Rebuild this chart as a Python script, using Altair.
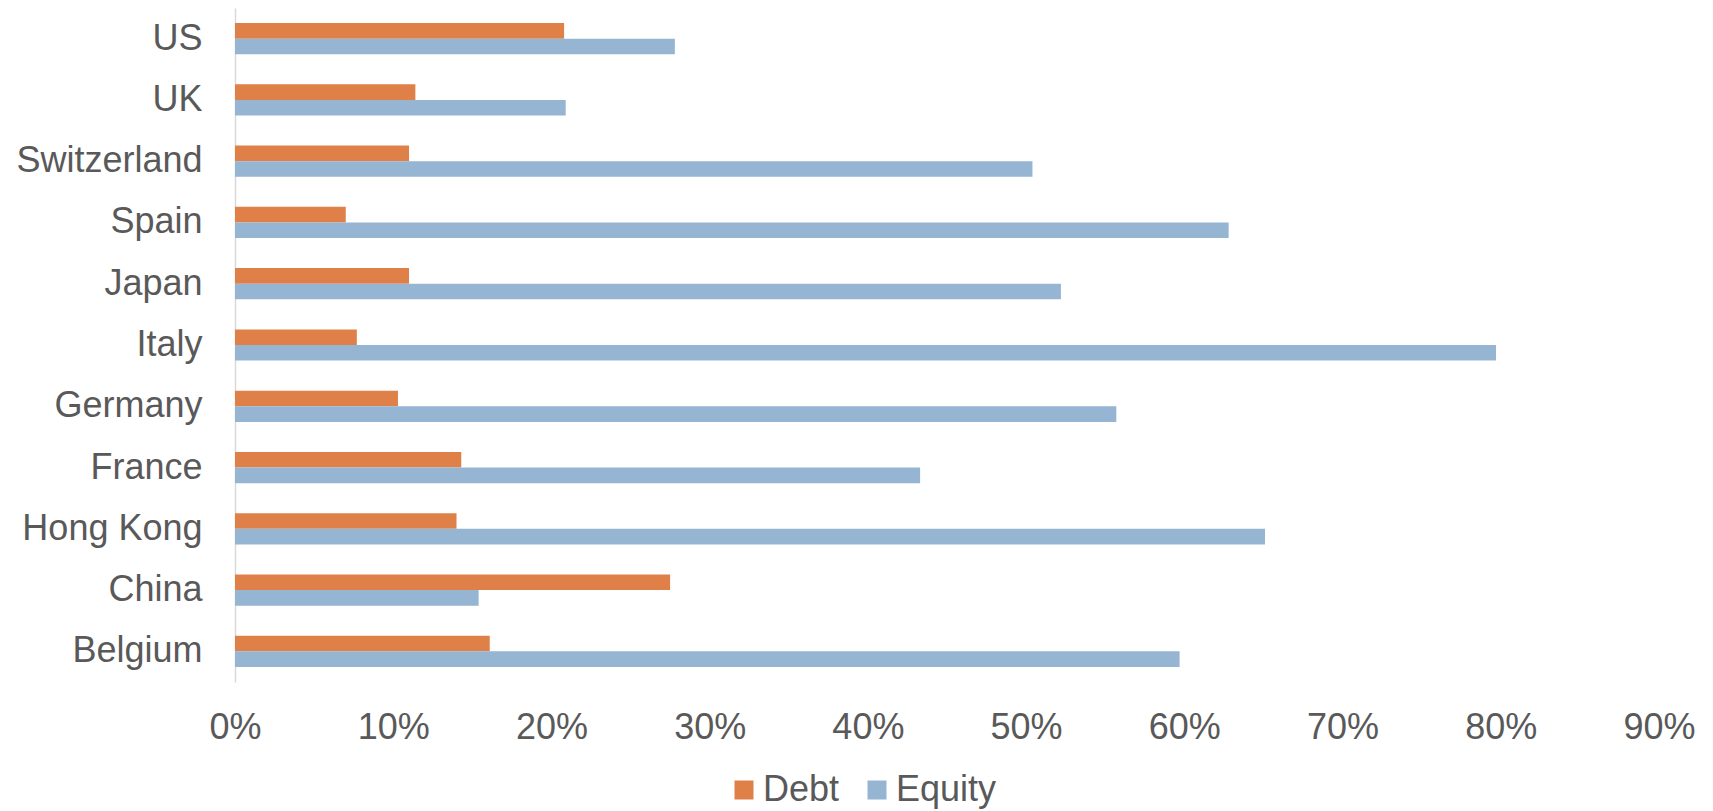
import altair as alt
import pandas as pd

# Countries, top to bottom
countries = ["US", "UK", "Switzerland", "Spain", "Japan", "Italy",
             "Germany", "France", "Hong Kong", "China", "Belgium"]
# Shares (fraction of total)
debt = [0.208, 0.114, 0.110, 0.070, 0.110, 0.077, 0.103, 0.143, 0.140, 0.275, 0.161]
equity = [0.278, 0.209, 0.504, 0.628, 0.522, 0.797, 0.557, 0.433, 0.651, 0.154, 0.597]

series = ["Debt", "Equity"]
colors = ["#DE8048", "#95B5D3"]
ticks = [0.0, 0.1, 0.2, 0.3, 0.4, 0.5, 0.6, 0.7, 0.8, 0.9]

rows = []
for c, d, e in zip(countries, debt, equity):
    rows.append({"country": c, "series": "Debt", "value": d})
    rows.append({"country": c, "series": "Equity", "value": e})
df = pd.DataFrame(rows)

text_color = "#595959"
font = "Liberation Sans"

chart = (
    alt.Chart(df)
    .mark_bar()
    .encode(
        y=alt.Y(
            "country:N",
            sort=countries,
            title=None,
            scale=alt.Scale(paddingInner=0.49, paddingOuter=0.245),
            axis=alt.Axis(
                ticks=False,
                labelPadding=33,
                labelLimit=400,
                labelFontSize=36,
                labelColor=text_color,
                labelFont=font,
                domainColor="#D9D9D9",
                domainWidth=1.5,
                grid=False,
            ),
        ),
        yOffset=alt.YOffset("series:N", sort=series),
        x=alt.X(
            "value:Q",
            title=None,
            scale=alt.Scale(domain=[0, 0.9], nice=False),
            axis=alt.Axis(
                values=ticks,
                format=".0%",
                ticks=False,
                domain=False,
                grid=False,
                labelFlush=False,
                labelPadding=28,
                labelFontSize=36,
                labelColor=text_color,
                labelFont=font,
            ),
        ),
        color=alt.Color(
            "series:N",
            sort=series,
            scale=alt.Scale(domain=series, range=colors),
            legend=alt.Legend(
                title=None,
                orient="none",
                direction="horizontal",
                legendX=491,
                legendY=764,
                symbolType="square",
                symbolSize=361,
                symbolStrokeWidth=0,
                labelFontSize=36,
                labelColor=text_color,
                labelFont=font,
                labelOffset=1,
                columnPadding=19,
            ),
        ),
    )
    .properties(
        width=1424,
        height=674,
        background="white",
        padding={"left": 235, "top": 8, "right": 54, "bottom": 129},
        autosize=alt.AutoSizeParams(type="none"),
    )
    .configure_view(strokeWidth=0)
)

chart.save("out.html", embed_options={"renderer": "svg", "actions": False})
